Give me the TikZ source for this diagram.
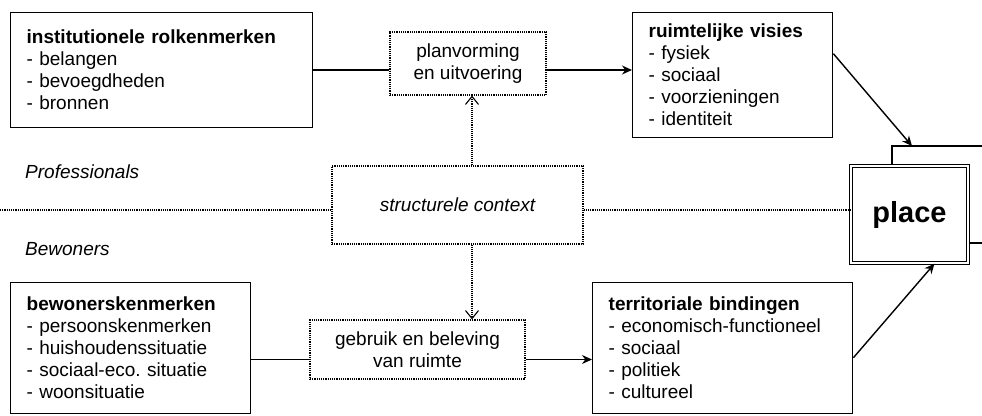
\documentclass[tikz,border=0pt]{standalone}
\usepackage{fontspec}
\setmainfont{Liberation Sans}
\usetikzlibrary{arrows.meta, positioning}
\newcommand{\groot}{\fontsize{19}{22}\selectfont}
\newcommand{\kop}[1]{\textbf{#1}}
\tikzset{
  >={Stealth[length=10pt, width=9pt]},
  kbox/.style={rectangle, draw, line width=1.4pt, align=left, anchor=north west,
               inner xsep=16pt, inner ysep=4pt, font=\groot},
  dbox/.style={rectangle, draw, densely dotted, line width=1.2pt, align=center,
               inner sep=4pt, font=\groot},
  plain/.style={line width=1.4pt},
  flow/.style={->, line width=1.4pt},
  flowd/.style={-{Straight Barb[length=8pt, width=13pt]}, densely dotted, line width=1.1pt},
  sep/.style={densely dotted, line width=1.2pt},
  lbl/.style={font=\groot\itshape, inner sep=0pt, anchor=west},
}

\begin{document}
\begin{tikzpicture}[x=1pt, y=-1pt]
  \fill[white] (0,0) rectangle (982,415);
  \useasboundingbox (0,0) rectangle (982,415);

  % professionals
  \node[kbox, minimum width=302pt, minimum height=115pt, text width=270pt] (inst) at (10,12)
    {\kop{institutionele rolkenmerken}\\- belangen\\- bevoegdheden\\- bronnen};
  \node[dbox, minimum width=156pt, minimum height=63pt] (plan) at (468,63.5)
    {planvorming\\en uitvoering};
  \node[kbox, minimum width=200pt, minimum height=125pt, text width=168pt] (visie) at (632,12)
    {\kop{ruimtelijke visies}\\- fysiek\\- sociaal\\- voorzieningen\\- identiteit};

  % bewoners
  \node[kbox, minimum width=240pt, minimum height=131pt, text width=208pt] (bew) at (10,282)
    {\kop{bewonerskenmerken}\\- persoonskenmerken\\- huishoudenssituatie\\- sociaal-eco.\ situatie\\- woonsituatie};
  \node[dbox, minimum width=215pt, minimum height=59pt] (gebruik) at (417.5,349.5)
    {gebruik en beleving\\van ruimte};
  \node[kbox, minimum width=260pt, minimum height=131pt, text width=228pt] (terr) at (592,282)
    {\kop{territoriale bindingen}\\- economisch-functioneel\\- sociaal\\- politiek\\- cultureel};

  \node[dbox, minimum width=251pt, minimum height=78pt, font=\groot\itshape] (context) at (457.5,205)
    {structurele context};
  \node[draw, double, line width=1.3pt, double distance=2.2pt, minimum width=117pt,
        minimum height=97pt, font=\fontsize{29}{34}\selectfont\bfseries] (place) at (909.5,214.5) {place};

  \node[lbl] (prof) at (25,172) {Professionals};
  \node[lbl] (bewo) at (25,249) {Bewoners};

  % connectors
  \coordinate (pl) at ([yshift=-6.5pt]plan.west);
  \coordinate (pr) at ([yshift=-6.5pt]plan.east);
  \draw[plain] (inst.east |- pl) -- (pl);
  \draw[flow] (pr) -- (visie.west |- pr);
  \coordinate (gl) at ([yshift=-10pt]gebruik.west);
  \coordinate (gr) at ([yshift=-10pt]gebruik.east);
  \draw[plain] (bew.east |- gl) -- (gl);
  \draw[flow] (gr) -- (terr.west |- gr);

  \coordinate (cx) at (472,205);
  \draw[flowd] (context.north -| cx) -- (plan.south -| cx);
  \draw[flowd] (context.south -| cx) -- (gebruik.north -| cx);

  \coordinate (sl) at (0,210);
  \draw[sep] (sl) -- (context.west |- sl);
  \draw[sep] (context.east |- sl) -- (place.west |- sl);

  \coordinate (lt) at (892,146);
  \coordinate (rt) at (982,146);
  \coordinate (hit) at (912,146);
  \coordinate (re) at (982,243);
  \draw[plain] (place.north -| lt) -- (lt) -- (rt);
  \draw[plain] (place.east |- re) -- (re);
  \draw[flow] ([yshift=21.5pt]visie.east) -- (hit);
  \draw[flow] ([yshift=-9.5pt]terr.east) -- ([xshift=25pt]place.south);
\end{tikzpicture}
\end{document}
